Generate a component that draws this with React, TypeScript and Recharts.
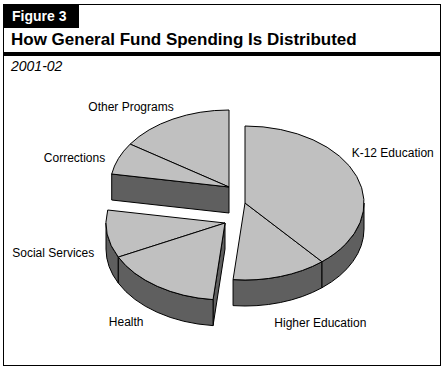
import React from 'react';
import { PieChart, Pie } from 'recharts';

// ---- data ----
const categories = ['Other Programs', 'Corrections', 'Social Services', 'Health', 'Higher Education', 'K-12 Education'];
const shares = [15.6, 6.7, 10.0, 16.1, 12.8, 38.8];
const groups = ['other', 'other', 'health', 'health', 'education', 'education'];

const data = categories.map((name, i) => ({ name, value: shares[i], group: groups[i] }));

// ---- geometry / style ----
const W = 445;
const H = 372;
const CX = 245;
const CY = 203;
const RX = 119;
const RY = 77;
const DEPTH = 26;
const TOP = '#c0c0c0';
const SIDE = '#5f5f5f';
const FONT = '"Liberation Sans", Arial, Helvetica, sans-serif';

const EXPLODE: Record<string, [number, number]> = {
  other: [-16, -16],
  health: [-20, 20],
  education: [0, 0],
};

const LABEL_OFFSET: Record<string, [number, number]> = {
  'Other Programs': [-42, -12],
  Corrections: [-44, -1],
  'Social Services': [-54, -7],
  Health: [-31, 9],
  'Higher Education': [40, 20],
  'K-12 Education': [36, -24],
};

const rad = (a: number) => (a * Math.PI) / 180;

const renderSlice = (props: any) => {
  const { cx, cy, outerRadius, startAngle, endAngle, midAngle, index } = props;
  const g = groups[index];
  const [ox, oy] = EXPLODE[g];
  const rx = outerRadius;
  const ry = (outerRadius * RY) / RX;
  const ax = cx + ox;
  const ay = cy + oy;
  const P = (a: number, dz = 0): [number, number] => [ax + rx * Math.cos(rad(a)), ay - ry * Math.sin(rad(a)) + dz];
  const f = (p: [number, number]) => `${p[0].toFixed(2)},${p[1].toFixed(2)}`;

  const a1 = Math.min(startAngle, endAngle);
  const a2 = Math.max(startAngle, endAngle);
  const n = groups.length;
  const prevG = groups[(index - 1 + n) % n];
  const nextG = groups[(index + 1) % n];

  const faces: React.ReactNode[] = [];
  const cut = (a: number, key: string) => {
    const p = P(a);
    const pd = P(a, DEPTH);
    faces.push(
      <path
        key={key}
        d={`M${ax},${ay} L${f(p)} L${f(pd)} L${ax},${ay + DEPTH} Z`}
        fill={SIDE}
        stroke="#000"
        strokeWidth={1}
        strokeLinejoin="round"
      />
    );
  };
  if (prevG !== g && Math.sin(rad(a1 - 90)) < -0.02) cut(a1, 'c1');
  if (nextG !== g && Math.sin(rad(a2 + 90)) < -0.02) cut(a2, 'c2');

  for (let k = -1; k <= 1; k++) {
    const lo = Math.max(a1, 180 + 360 * k);
    const hi = Math.min(a2, 360 + 360 * k);
    if (hi > lo) {
      const large = hi - lo > 180 ? 1 : 0;
      faces.push(
        <path
          key={`w${k}`}
          d={`M${f(P(lo))} A${rx},${ry} 0 ${large} 0 ${f(P(hi))} L${f(P(hi, DEPTH))} A${rx},${ry} 0 ${large} 1 ${f(P(lo, DEPTH))} Z`}
          fill={SIDE}
          stroke="#000"
          strokeWidth={1}
          strokeLinejoin="round"
        />
      );
    }
  }

  const largeTop = a2 - a1 > 180 ? 1 : 0;
  const top = (
    <path
      d={`M${ax},${ay} L${f(P(a1))} A${rx},${ry} 0 ${largeTop} 0 ${f(P(a2))} Z`}
      fill={TOP}
      stroke="#000"
      strokeWidth={1}
      strokeLinejoin="round"
    />
  );

  const name = categories[index];
  const rim = P(midAngle, Math.sin(rad(midAngle)) < 0 ? DEPTH : 0);
  const [lx, ly] = LABEL_OFFSET[name] || [0, 0];

  return (
    <g key={`slice-${index}`}>
      {faces}
      {top}
      <text
        x={rim[0] + lx}
        y={rim[1] + ly + 4.3}
        textAnchor="middle"
        fontFamily={FONT}
        fontSize={12}
        fill="#000"
        stroke="none"
      >
        {name}
      </text>
    </g>
  );
};

export default function App() {
  return (
    <div style={{ position: 'absolute', left: 0, top: 0, width: W, height: H, background: '#fff' }}>
      <svg width={W} height={H} style={{ position: 'absolute', left: 0, top: 0 }}>
        <rect x={3.5} y={4.5} width={437} height={361} fill="#fff" stroke="#000" strokeWidth={1} />
        <rect x={3} y={4} width={76} height={24} fill="#000" />
        <text x={12} y={21} fill="#fff" fontFamily={FONT} fontWeight="bold" fontSize={14}>
          Figure 3
        </text>
        <text x={11} y={45} fill="#000" fontFamily={FONT} fontWeight="bold" fontSize={17}>
          How General Fund Spending Is Distributed
        </text>
        <rect x={3} y={52} width={438} height={4} fill="#000" />
        <text x={11} y={71} fill="#000" fontFamily={FONT} fontStyle="italic" fontSize={14}>
          2001-02
        </text>
      </svg>
      <div style={{ position: 'absolute', left: 0, top: 0 }}>
        <PieChart width={W} height={H} margin={{ top: 0, right: 0, bottom: 0, left: 0 }}>
          <Pie
            data={data}
            dataKey="value"
            nameKey="name"
            cx={CX}
            cy={CY}
            innerRadius={0}
            outerRadius={RX}
            startAngle={90}
            endAngle={450}
            paddingAngle={0}
            fill="none"
            stroke="none"
            label={renderSlice}
            labelLine={false}
            isAnimationActive={false}
          />
        </PieChart>
      </div>
    </div>
  );
}
